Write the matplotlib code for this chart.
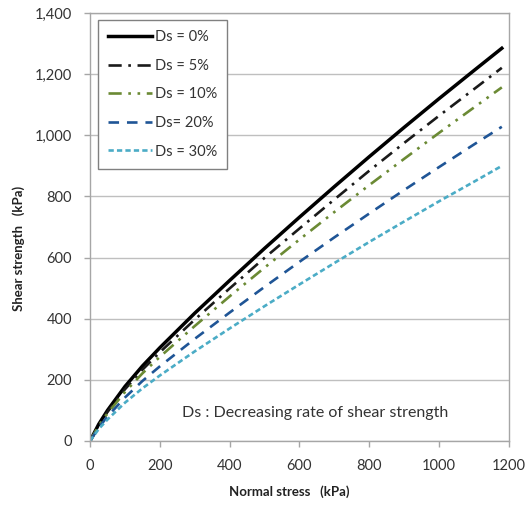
import matplotlib
matplotlib.use("Agg")
import matplotlib.pyplot as plt
from matplotlib.ticker import FuncFormatter, MultipleLocator

plt.rcParams['font.family'] = ['Lato', 'DejaVu Sans']

# Normal stress (kPa)
normal_stress = [0, 25, 50, 100, 150, 200, 300, 400, 500, 600, 700, 800, 900, 1000, 1100, 1180]

# Shear strength (kPa) for each decreasing rate
ds_0 = [0, 55, 100, 178, 245, 305, 418, 525, 630, 732, 832, 930, 1026, 1120, 1212, 1285]
ds_5 = [0, 52, 95, 169, 233, 290, 397, 499, 599, 695, 790, 884, 975, 1064, 1151, 1221]
ds_10 = [0, 50, 90, 160, 221, 275, 376, 473, 567, 659, 749, 837, 923, 1008, 1091, 1157]
ds_20 = [0, 44, 80, 142, 196, 244, 334, 420, 504, 586, 666, 744, 821, 896, 970, 1028]
ds_30 = [0, 39, 70, 125, 172, 214, 293, 368, 441, 512, 582, 651, 718, 784, 848, 900]

labels = ["Ds = 0%", "Ds = 5%", "Ds = 10%", "Ds= 20%", "Ds = 30%"]

fig = plt.figure(figsize=(5.3, 5.05), dpi=100)
ax = fig.add_axes([0.170, 0.127, 0.790, 0.847])

ax.plot(normal_stress, ds_0, color="black", lw=2.5, label=labels[0])
ax.plot(normal_stress, ds_5, color="#1a1a1a", lw=1.9, dashes=(5, 2.5, 1, 2.5), label=labels[1])
ax.plot(normal_stress, ds_10, color="#6b8a34", lw=1.9, dashes=(5, 2.5, 1, 2.5, 1, 2.5), label=labels[2])
ax.plot(normal_stress, ds_20, color="#1f5596", lw=1.9, dashes=(4, 3), label=labels[3])
ax.plot(normal_stress, ds_30, color="#4bacc6", lw=1.9, dashes=(2, 1.2), label=labels[4])

ax.set_xlim(0, 1200)
ax.set_ylim(0, 1400)
ax.xaxis.set_major_locator(MultipleLocator(200))
ax.yaxis.set_major_locator(MultipleLocator(200))
ax.yaxis.set_major_formatter(FuncFormatter(lambda v, p: f"{int(v):,}"))

ax.grid(axis="y", color="#bfbfbf", lw=1.0)
ax.set_axisbelow(True)
for s in ax.spines.values():
    s.set_color("#a6a6a6")
    s.set_linewidth(1.0)
ax.tick_params(axis="both", colors="#a6a6a6", labelcolor="#333333", length=4, width=1.0,
               labelsize=10.5)
ax.tick_params(axis="y", pad=9)
ax.tick_params(axis="x", pad=9)

ax.set_xlabel("Normal stress   (kPa)", fontsize=9.5, fontweight="bold", color="#222222")
ax.set_ylabel("Shear strength   (kPa)", fontsize=9.5, fontweight="bold", color="#222222")
ax.xaxis.set_label_coords(0.475, -0.103)
ax.yaxis.set_label_coords(-0.155, 0.45)

leg = ax.legend(loc="upper left", bbox_to_anchor=(0.019, 0.984), borderaxespad=0,
                fontsize=10.5, handlelength=3.0, handletextpad=0.2, labelspacing=1.0,
                borderpad=0.7, fancybox=False, framealpha=1)
leg.get_frame().set_edgecolor("#808080")
leg.get_frame().set_linewidth(1.0)
for t in leg.get_texts():
    t.set_color("#333333")

ax.text(0.537, 0.066, "Ds : Decreasing rate of shear strength", transform=ax.transAxes,
        ha="center", va="center", fontsize=11.5, color="#333333")

fig.savefig("out.png", dpi=100)
